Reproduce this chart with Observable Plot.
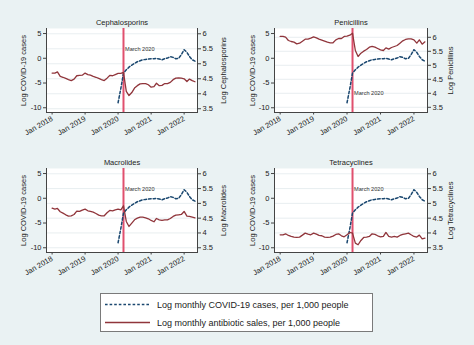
<!DOCTYPE html>
<html><head><meta charset="utf-8">
<script src="https://cdn.jsdelivr.net/npm/d3@7"></script>
<script src="https://cdn.jsdelivr.net/npm/@observablehq/plot@0.6"></script>
<style>
html,body{margin:0;padding:0;background:#eaf2f3;}
#fig{position:relative;width:474px;height:345px;background:#eaf2f3;font-family:"Liberation Sans",Arial,sans-serif;overflow:hidden;}
.panel{position:absolute;width:237px;height:140px;}
#legend{position:absolute;left:100px;top:293px;width:273px;height:39px;background:#fff;border:1px solid #7a7a7a;box-sizing:border-box;}
#legend svg{position:absolute;left:0;top:0;}
</style></head><body>
<div id="fig"><div id="legend"></div></div>
<script>
// ---- data ----
const panelNames = ["Cephalosporins", "Penicillins", "Macrolides", "Tetracyclines"];
const rightAxisLabels = ["Log Cephalosporins", "Log Penicillins", "Log Macrolides", "Log Tetracyclines"];
const leftAxisLabel = "Log COVID-19 cases";
const yearTickLabels = ["Jan 2018", "Jan 2019", "Jan 2020", "Jan 2021", "Jan 2022"];
const leftTicks = [5, 0, -5, -10];
const rightTicks = [6, 5.5, 5, 4.5, 4, 3.5];
const eventLabel = "March 2020";
const legendLabels = ["Log monthly COVID-19 cases, per 1,000 people", "Log monthly antibiotic sales, per 1,000 people"];

// monthly, Jan 2018 .. May 2022 (log antibiotic sales, right axis)
const cephalosporins = [4.69,4.69,4.73,4.58,4.55,4.51,4.47,4.44,4.49,4.60,4.61,4.62,4.69,4.64,4.62,4.58,4.55,4.51,4.47,4.44,4.52,4.61,4.60,4.64,4.68,4.68,4.71,4.08,3.94,4.04,4.19,4.27,4.33,4.34,4.34,4.30,4.22,4.24,4.35,4.27,4.28,4.34,4.34,4.38,4.47,4.52,4.53,4.52,4.50,4.41,4.49,4.44,4.40];
const penicillins = [6.03,6.03,6.005,5.886,5.85,5.826,5.767,5.79,5.862,5.934,5.934,5.969,6.017,5.981,5.934,5.898,5.862,5.826,5.803,5.803,5.91,5.957,5.957,6.03,6.041,6.076,6.148,5.529,5.315,5.434,5.505,5.565,5.648,5.672,5.648,5.6,5.553,5.529,5.624,5.576,5.636,5.672,5.707,5.79,5.874,5.922,5.946,5.946,5.91,5.79,5.91,5.755,5.838];
const macrolides = [4.839,4.806,4.828,4.716,4.67,4.614,4.569,4.58,4.625,4.738,4.727,4.772,4.806,4.749,4.727,4.704,4.659,4.603,4.58,4.58,4.682,4.76,4.749,4.783,4.806,4.783,4.918,4.389,4.22,4.333,4.445,4.502,4.535,4.535,4.513,4.479,4.423,4.378,4.49,4.445,4.423,4.445,4.445,4.49,4.558,4.603,4.614,4.625,4.727,4.569,4.558,4.535,4.513];
const tetracyclines = [3.938,3.938,3.972,3.916,3.882,3.86,3.848,3.86,3.927,3.995,3.961,3.938,3.995,3.961,3.916,3.905,3.86,3.848,3.86,3.893,3.95,3.972,3.905,3.871,3.938,4.017,3.995,3.657,3.601,3.747,3.848,3.86,3.882,3.972,3.95,3.905,3.871,3.882,4.017,3.882,3.86,3.882,3.86,3.916,3.95,3.972,3.995,3.938,3.882,3.86,3.927,3.803,3.826];
// monthly, Jan 2020 .. May 2022 (log COVID-19 cases, left axis)
const covid = [-8.99,-6.07,-3.01,-2.33,-1.79,-1.38,-1.04,-0.70,-0.50,-0.30,-0.23,-0.16,-0.09,-0.09,-0.02,-0.16,-0.30,-0.09,0.04,0.32,0.18,-0.09,-0.02,0.72,1.74,1.20,0.38,-0.30,-0.57];

// ---- build ----
const months = d3.utcMonths(new Date(Date.UTC(2018,0,1)), new Date(Date.UTC(2022,5,1)));
const covidMonths = months.slice(months.length - covid.length);
const yearTicks = yearTickLabels.map(s => d3.utcParse("%b %Y")(s));
const eventDate = d3.utcParse("%B %Y")(eventLabel);
const series = [cephalosporins, penicillins, macrolides, tetracyclines];

const layout = [
  {left:0,   top:0,   ml:46, mr:40, a:4.95, b:6.06, markY:1.9,   dxL:-23, dxR:26},
  {left:237, top:0,   ml:37, mr:47, a:4.24, b:5.66, markY:-7.06, dxL:-22, dxR:23},
  {left:0,   top:140, ml:46, mr:40, a:4.95, b:5.98, markY:1.9,   dxL:-23, dxR:26},
  {left:237, top:140, ml:37, mr:47, a:4.95, b:5.98, markY:1.9,   dxL:-22, dxR:23}
];

const NAVY = "#1a476f", MAROON = "#90353b", EVENT = "#e0506e";
const fig = document.getElementById("fig");

panelNames.forEach((name, k) => {
  const L = layout[k];
  const toL = r => L.a + L.b * (r - 6);
  const fromL = v => Math.round(((v - L.a) / L.b + 6) * 10) / 10;
  const abx = months.map((d, i) => ({date: d, v: toL(series[k][i])}));
  const cov = covidMonths.map((d, i) => ({date: d, v: covid[i]}));
  const rt = rightTicks.map(toL);
  const chart = Plot.plot({
    width: 237, height: 140,
    marginLeft: L.ml, marginRight: L.mr, marginTop: 28, marginBottom: 28,
    style: {background: "transparent", fontFamily: "'Liberation Sans', Arial, sans-serif", fontSize: "7.5px", color: "#222", overflow: "visible"},
    x: {type: "utc", domain: [new Date(Date.UTC(2017,9,31)), new Date(Date.UTC(2022,4,29))]},
    y: {domain: [-10.96, 6.02]},
    marks: [
      Plot.frame({fill: "white", stroke: null}),
      Plot.ruleY(rt, {stroke: "#e2eaec", strokeWidth: 0.8}),
      Plot.ruleX([eventDate], {stroke: EVENT, strokeWidth: 2}),
      Plot.line(cov, {x: "date", y: "v", stroke: NAVY, strokeWidth: 1.5, strokeDasharray: "2.6,2"}),
      Plot.line(abx, {x: "date", y: "v", stroke: MAROON, strokeWidth: 1.3}),
      Plot.text([eventLabel], {x: eventDate, y: L.markY, text: d => d, textAnchor: "start", dx: 1.5, fontSize: 5.6, fill: "#333"}),
      Plot.frame({anchor: "left", stroke: "#444"}),
      Plot.frame({anchor: "right", stroke: "#444"}),
      Plot.frame({anchor: "bottom", stroke: "#444"}),
      Plot.axisY(leftTicks, {anchor: "left", tickSize: 3, tickPadding: 2, tickFormat: d => String(d), label: null, stroke: "#444", fill: "#222"}),
      Plot.axisY(rt, {anchor: "right", tickSize: 3, tickPadding: 2, tickFormat: d => String(fromL(d)), label: null, stroke: "#444", fill: "#222"}),
      Plot.axisX(yearTicks, {anchor: "bottom", tickSize: 2.5, tickPadding: 3, tickRotate: -30, tickFormat: d3.utcFormat("%b %Y"), label: null, stroke: "#444", fill: "#222"}),
      Plot.text([name], {frameAnchor: "top", lineAnchor: "middle", dy: -5.5, text: d => d, fontSize: 7.5, fill: "#222"}),
      Plot.text([leftAxisLabel], {frameAnchor: "left", textAnchor: "middle", lineAnchor: "middle", dx: L.dxL, rotate: -90, text: d => d, fontSize: 7.5, fill: "#222"}),
      Plot.text([rightAxisLabels[k]], {frameAnchor: "right", textAnchor: "middle", lineAnchor: "middle", dx: L.dxR, rotate: -90, text: d => d, fontSize: 7.5, fill: "#222"})
    ]
  });
  const div = document.createElement("div");
  div.className = "panel";
  div.style.left = L.left + "px";
  div.style.top = L.top + "px";
  div.appendChild(chart);
  fig.appendChild(div);
});

// legend
const leg = d3.select("#legend").append("svg").attr("width", 273).attr("height", 39)
  .style("font-family", "'Liberation Sans', Arial, sans-serif");
const legRows = [{y: 10.5, stroke: NAVY, dash: "2.6,2", w: 1.5}, {y: 28.5, stroke: MAROON, dash: null, w: 1.3}];
legRows.forEach((r, i) => {
  leg.append("line").attr("x1", 4).attr("x2", 49).attr("y1", r.y).attr("y2", r.y)
    .attr("stroke", r.stroke).attr("stroke-width", r.w).attr("stroke-dasharray", r.dash);
  leg.append("text").attr("x", 56).attr("y", r.y).attr("dy", "0.35em").attr("font-size", 9)
    .attr("fill", "#222").text(legendLabels[i]);
});
</script>
</body></html>
